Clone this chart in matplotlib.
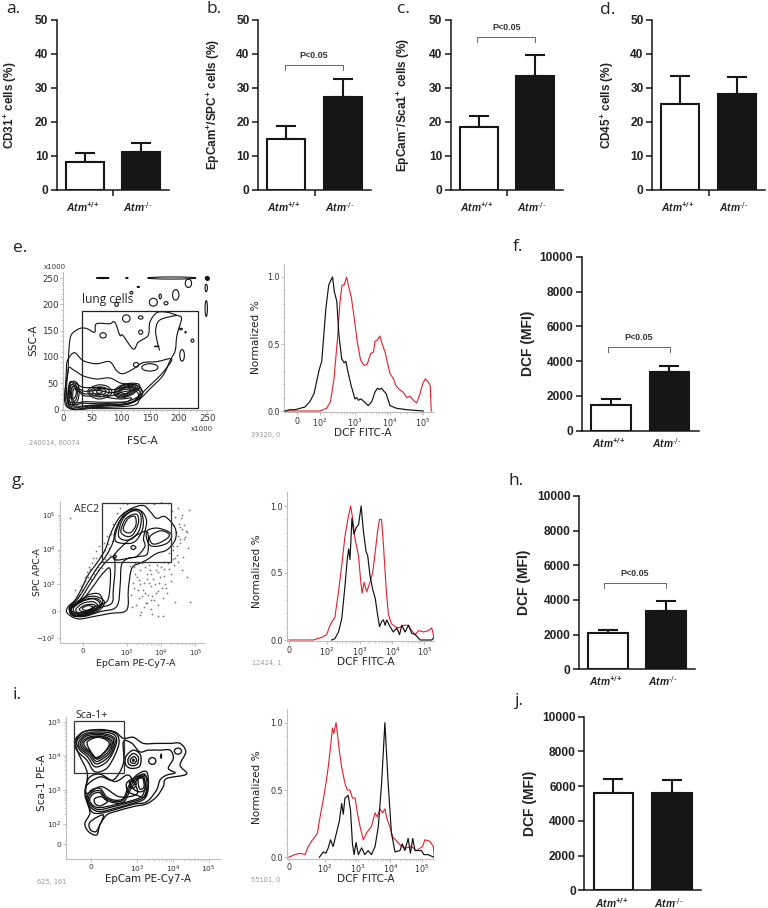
import numpy as np
import matplotlib
matplotlib.use("Agg")
import matplotlib.pyplot as plt
from matplotlib.path import Path
from matplotlib.patches import PathPatch, Ellipse, Rectangle

plt.rcParams['mathtext.default'] = 'regular'
W, H = 768, 908
BOLD = 'Liberation Sans'
FLOW = 'DejaVu Sans'

# ---------- bar data ----------
genotypes = [r"Atm$^{+/+}$", r"Atm$^{\text{-/-}}$"]
cd31_means = [8.2, 11.0];     cd31_tops = [10.8, 13.7]
spc_means = [15.0, 27.3];     spc_tops = [18.6, 32.5]
sca1_means = [18.5, 33.6];    sca1_tops = [21.7, 39.8]
cd45_means = [25.3, 28.2];    cd45_tops = [33.5, 33.3]
dcf_f_means = [1450, 3400];   dcf_f_tops = [1850, 3700]
dcf_h_means = [2080, 3365];   dcf_h_tops = [2250, 3920]
dcf_j_means = [5590, 5600];   dcf_j_tops = [6410, 6370]

# ---------- histogram data: log10 channel position, normalized count ----------
e_black_x = [1.0,1.14,1.29,1.43,1.57,1.71,1.83,1.92,1.98,2.05,2.11,2.17,2.25,2.30,2.36,2.41,2.48,2.54,2.62,2.69,2.74,2.81,2.89,3.0,3.05,3.10,3.16,3.22,3.30,3.38,3.48,3.57,3.64,3.70,3.76,3.82,3.89,4.0,4.19,4.48,4.95]
e_black_y = [0,.01,.01,.02,.03,.07,.13,.24,.31,.37,.57,.77,.94,.97,1.0,.89,.82,.57,.39,.36,.37,.28,.19,.09,.10,.08,.09,.08,.06,.04,.07,.14,.17,.16,.17,.15,.13,.04,.02,.01,0]
e_red_x = [1.0,1.6,2.0,2.19,2.30,2.40,2.50,2.57,2.63,2.69,2.76,2.81,2.90,2.97,3.07,3.16,3.26,3.35,3.45,3.53,3.57,3.64,3.71,3.79,3.86,3.92,4.0,4.10,4.17,4.27,4.38,4.48,4.57,4.67,4.76,4.86,4.93,5.01,5.09,5.15,5.18]
e_red_y = [0,0,0,.02,.07,.24,.54,.81,.94,.94,1.0,.94,.84,.71,.51,.38,.34,.35,.43,.44,.52,.53,.56,.49,.44,.37,.28,.24,.19,.16,.14,.10,.11,.08,.06,.13,.20,.24,.22,.19,0]
g_black_x = [2.15,2.25,2.36,2.46,2.56,2.63,2.67,2.71,2.77,2.83,2.90,2.97,3.05,3.12,3.20,3.25,3.32,3.40,3.48,3.55,3.61,3.68,3.73,3.78,3.83,3.93,4.03,4.14,4.22,4.29,4.39,4.49,4.59,4.70,4.85,5.05,5.20,5.28]
g_black_y = [0,.01,.06,.16,.41,.61,.68,.60,.91,.79,.84,.86,1.0,.81,.66,.63,.48,.38,.31,.19,.10,.14,.15,.11,.15,.10,.06,.09,.04,.11,.06,.11,.05,.04,0,0,0,.02]
g_red_x = [0.85,1.59,1.85,2.0,2.10,2.25,2.36,2.46,2.56,2.66,2.73,2.79,2.86,2.97,3.04,3.08,3.14,3.22,3.32,3.40,3.48,3.55,3.61,3.67,3.73,3.81,3.88,3.98,4.09,4.19,4.34,4.49,4.59,4.70,4.80,4.95,5.10,5.20,5.28]
g_red_y = [0,0,.02,.04,.11,.17,.36,.56,.78,.92,1.0,.91,.76,.63,.43,.35,.43,.36,.43,.50,.66,.81,.90,.90,.71,.39,.19,.12,.10,.09,.11,.11,.07,.04,.07,.06,.07,.09,.01]
i_red_x = [.89,1.08,1.24,1.39,1.49,1.59,1.69,1.77,1.85,1.95,2.03,2.10,2.17,2.23,2.27,2.34,2.38,2.44,2.51,2.61,2.68,2.76,2.84,2.92,2.99,3.07,3.17,3.27,3.42,3.53,3.60,3.68,3.76,3.83,3.90,3.98,4.07,4.19,4.34,4.49,4.64,4.80,4.98,5.05,5.20,5.31,5.34]
i_red_y = [0,.02,.03,.02,.08,.12,.15,.18,.30,.43,.55,.67,.82,.96,.92,1.0,.92,.79,.67,.55,.50,.50,.44,.44,.33,.23,.13,.18,.23,.33,.30,.36,.33,.36,.28,.23,.15,.12,.08,.07,.08,.05,.08,.13,.12,.08,0]
i_black_x = [1.83,1.95,2.03,2.10,2.17,2.25,2.36,2.44,2.51,2.56,2.61,2.71,2.78,2.84,2.89,2.95,3.02,3.12,3.22,3.32,3.42,3.53,3.63,3.73,3.83,3.93,4.03,4.14,4.29,4.36,4.44,4.54,4.61,4.68,4.75,4.95,5.02,5.15,5.33]
i_black_y = [0,.04,.03,.07,.13,.08,.19,.27,.40,.32,.44,.46,.35,.10,.02,.11,.02,.07,.02,.05,.02,.08,.23,.55,1.0,.55,.18,.04,.05,.10,.05,.14,.03,.14,.05,.05,.02,.02,0]

# ---------- panel e contour traces (FSC-A, SSC-A in thousands) ----------
e_contours = [
 [(5,6),(8,77),(9,109),(13,141),(28,154),(40,154),(54,147),(57,163),(80,163),(89,166),(98,141),(103,141),(121,115),(130,128),(147,141),(150,166),(162,184),(179,185),(197,179),(205,173),(197,141),(194,112),(185,93),(173,65),(150,39),(133,20),(121,8),(63,4)],
 [(5,77),(8,96),(19,108),(34,93),(57,87),(80,91),(92,74),(103,68),(121,77),(138,89),(162,91),(188,96),(173,71),(156,52),(138,33),(121,14),(63,6),(8,5)],
 [(8,75),(19,74),(34,64),(57,58),(80,60),(100,50),(120,48),(135,40),(128,22),(110,10),(60,7),(10,6)],
 [(10,50),(20,50),(35,42),(60,42),(85,38),(105,42),(130,40),(138,32),(128,18),(105,9),(60,8),(12,7)],
 [(12,45),(22,44),(35,35),(60,36),(85,32),(105,38),(128,38),(133,28),(122,16),(100,10),(60,9),(14,9)],
 [(15,42),(23,40),(36,30),(60,30),(82,26),(105,34),(125,35),(130,26),(118,18),(100,13),(60,11),(35,12),(16,11)],
 [(17,38),(24,36),(37,26),(60,26),(82,22),(100,20),(118,22),(110,15),(90,14),(60,14),(38,15),(18,14)],
 [(88,28),(100,22),(118,28),(131,40),(131,48),(118,50),(100,46),(90,38)],
 [(90,29),(100,24),(116,29),(128,40),(128,46),(118,48),(102,45),(92,37)],
 [(93,30),(102,26),(114,30),(125,40),(125,44),(116,46),(104,43),(95,36)],
 [(96,31),(104,28),(113,32),(122,40),(121,43),(114,44),(105,41),(98,36)],
 [(100,33),(106,30),(113,33),(116,38),(113,41),(106,41),(101,38)],
 [(48,25),(62,20),(78,25),(84,34),(76,44),(62,47),(48,42),(42,34)],
 [(50,28),(62,24),(75,28),(80,34),(73,41),(62,43),(50,39),(45,34)],
 [(54,30),(62,28),(71,30),(74,35),(69,39),(62,40),(54,38),(50,34)],
 [(58,32),(63,31),(67,33),(67,36),(63,38),(58,37)],
 [(8,12),(16,10),(24,16),(27,32),(25,48),(18,54),(11,48),(8,30)],
 [(10,16),(16,14),(22,20),(24,33),(22,45),(17,49),(12,44),(10,30)],
 [(12,22),(17,20),(21,26),(22,34),(20,42),(16,44),(13,38),(12,30)],
]
e_hook = [(197,179),(179,175),(165,168),(160,150),(163,128),(167,112)]
e_island_x = [68.6,109,134,134,126,150,206,195,156,168,178,217,248,248,118,92,130,224,204,212,162,68,110,188,249]
e_island_y = [141,173,175,147,85,80,103,218,204,215,202,240,231,192,222,200,233,131,153,147,120,250,250,250,250]
e_island_w = [11,13,8,7,9,28,8,11,14,4,7,11,4,4,5,6,4,5,5,2,8,22,4,84,5]
e_island_h = [10,14,6,8,9,14,22,20,15,9,6,16,14,30,5,8,2,6,3,3,1,2,2,4,5]
gate_e_x = [32.6, 233.7]; gate_e_y = [2.5, 188]

# ---------- panel g contour traces (log10 EpCam, log10 SPC positions) ----------
g_contours = [
 [(1.30,2.36),(1.50,2.55),(1.69,2.88),(1.88,3.27),(2.13,3.61),(2.37,3.99),(2.56,4.52),(2.81,4.95),(3.15,5.19),(3.49,5.27),(3.68,5.10),(3.87,4.90),(4.12,4.95),(4.41,4.62),(4.41,4.28),(4.17,3.99),(3.87,3.89),(3.58,3.70),(3.39,3.61),(3.15,3.46),(3.05,2.88),(3.0,2.26),(2.51,2.16),(2.03,2.07),(1.64,2.0),(1.40,2.07),(1.25,2.21)],
 [(1.35,2.36),(1.59,2.60),(1.83,2.98),(2.13,3.46),(2.42,3.85),(2.61,4.23),(2.66,4.52),(2.85,4.90),(3.19,5.14),(3.44,5.10),(3.58,4.81),(3.49,4.33),(3.53,4.09),(3.29,3.80),(3.05,3.75),(2.85,3.56),(2.81,2.98),(2.71,2.36),(2.22,2.21),(1.74,2.07),(1.40,2.12)],
 [(1.37,2.31),(1.64,2.55),(1.98,3.08),(2.32,3.56),(2.61,3.80),(2.66,3.46),(2.61,2.84),(2.56,2.45),(2.13,2.31),(1.74,2.14),(1.43,2.17)],
 [(1.40,2.31),(1.69,2.52),(1.98,2.88),(2.27,3.27),(2.51,3.46),(2.51,2.88),(2.42,2.50),(2.08,2.36),(1.74,2.19),(1.47,2.19)],
 [(1.38,2.30),(1.62,2.50),(1.90,2.70),(2.20,2.72),(2.30,2.45),(2.05,2.28),(1.74,2.13),(1.44,2.12)],
 [(1.33,2.33),(1.55,2.50),(1.8,2.62),(2.1,2.65),(2.35,2.5),(2.2,2.25),(1.75,2.09),(1.42,2.10)],
 [(1.36,2.33),(1.58,2.47),(1.85,2.58),(2.15,2.58),(2.27,2.42),(2.1,2.24),(1.75,2.11),(1.46,2.13)],
 [(1.45,2.31),(1.69,2.50),(2.03,2.58),(2.22,2.45),(2.17,2.29),(1.83,2.16),(1.54,2.16)],
 [(1.52,2.28),(1.72,2.45),(2.01,2.50),(2.15,2.40),(2.08,2.28),(1.82,2.19),(1.59,2.19)],
 [(1.62,2.28),(1.79,2.40),(2.03,2.42),(2.08,2.35),(1.93,2.25),(1.74,2.21)],
 [(1.71,2.31),(1.85,2.38),(2.01,2.36),(1.95,2.28),(1.79,2.25)],
 [(2.66,4.28),(2.76,4.71),(2.95,5.05),(3.24,5.17),(3.44,5.05),(3.47,4.62),(3.24,4.23),(2.90,4.18)],
 [(2.76,4.42),(2.85,4.81),(3.05,5.05),(3.29,5.12),(3.42,4.95),(3.37,4.57),(3.15,4.31),(2.90,4.28)],
 [(2.83,4.52),(2.95,4.86),(3.15,5.0),(3.31,5.0),(3.34,4.76),(3.19,4.44),(3.0,4.38)],
 [(2.90,4.62),(3.05,4.90),(3.24,4.95),(3.27,4.71),(3.13,4.50),(2.98,4.50)],
 [(3.58,4.52),(3.87,4.62),(4.21,4.52),(4.31,4.38),(4.17,4.18),(3.83,4.09),(3.63,4.18)],
 [(3.68,4.38),(3.97,4.54),(4.21,4.47),(4.21,4.35),(3.92,4.18),(3.73,4.18)],
 [(2.61,3.80),(2.81,4.04),(3.15,4.33),(3.58,4.52),(3.63,4.09),(3.58,3.85),(3.34,3.80),(3.05,3.75),(2.71,3.70)],
 [(3.12,4.06),(3.19,4.12),(3.27,4.06),(3.19,4.0)],
 [(2.62,3.80),(2.66,3.85),(2.70,3.80),(2.66,3.76)],
]
g_dots_x = [3.15,3.22,3.3,3.35,3.4,3.42,3.48,3.5,3.55,3.6,3.62,3.65,3.7,3.72,3.78,3.8,3.85,3.9,3.95,4.0,4.05,4.1,4.15,4.2,4.3,4.42,4.6,4.75,4.85,3.2,3.28,3.38,3.44,3.52,3.58,3.68,3.74,3.82,3.88,3.98,4.08,4.18,4.28,4.38,4.5,4.35,4.45,4.55,4.6,4.7,4.78,4.32,4.42,4.52,4.62,4.72,4.4,4.5,4.65,4.36,4.48,4.58,4.8,1.62,1.7,1.78,1.85,1.92,2.0,2.05,2.12,2.18,2.25,2.3,2.38,2.45,2.5,1.8,1.9,2.02,2.1,2.2,2.34,2.42,2.55,2.6,2.72,2.8,2.9,3.0,3.6,3.8,4.0,4.2,1.35,1.5,4.05,3.75,3.4,3.9,3.1,3.25,2.7,1.55,1.66,1.74,1.88,1.96,2.08,2.16,2.22,2.28,2.36,2.44,2.52,2.58,2.66,3.12,3.18,3.24,3.32,3.36,3.46,3.54,3.64,3.72,3.84,3.92,4.12,4.24,4.34,4.46,4.56,4.68,3.5,3.6,3.7,3.9,4.02,4.1,4.22,4.36,4.44,4.54,4.66,4.76]
g_dots_y = [2.35,2.9,3.2,2.6,3.4,2.2,2.85,3.05,2.45,3.3,2.7,3.55,2.95,2.3,3.15,2.55,3.4,2.8,3.05,3.5,2.6,3.25,2.9,3.6,3.1,2.5,3.4,3.2,2.5,3.5,2.4,3.0,3.6,2.75,3.15,3.4,2.65,3.0,3.55,3.2,3.45,2.75,3.3,3.55,3.65,4.0,3.85,4.2,4.6,4.35,4.05,5.1,4.95,4.75,5.0,4.55,3.75,5.2,3.8,4.7,4.4,4.9,5.15,2.7,2.85,3.1,3.35,3.45,3.6,3.3,3.75,3.5,3.85,3.65,4.0,4.15,4.05,3.2,3.5,3.75,3.95,4.1,4.2,4.4,4.45,4.75,5.05,5.2,5.35,5.32,5.34,5.3,5.36,5.33,4.9,2.85,2.1,2.15,2.12,2.08,3.52,3.62,3.72,2.62,2.95,3.02,3.22,3.14,3.42,3.4,3.62,3.48,3.72,3.9,3.85,4.25,4.6,2.7,3.05,3.3,2.85,3.12,2.65,3.5,3.05,3.3,2.75,3.35,3.0,3.45,3.72,4.1,4.3,4.7,2.35,2.45,2.55,2.4,2.9,3.65,3.9,4.1,4.5,4.65,4.3,4.5]
gate_g_x = [2.27, 4.29]; gate_g_y = [3.65, 5.33]

# ---------- panel i contour traces (log10 EpCam, log10 Sca-1 positions) ----------
i_contours = [
 [(1.25,4.48),(1.49,4.72),(1.95,4.79),(2.37,4.72),(2.61,4.53),(2.89,4.56),(3.17,4.38),(3.54,4.38),(3.92,4.38),(4.20,4.38),(4.36,4.13),(4.20,3.74),(4.38,3.47),(3.82,3.34),(3.73,3.10),(3.54,2.80),(3.26,2.59),(2.89,2.51),(2.37,2.36),(2.14,2.26),(1.95,1.97),(1.86,1.67),(1.63,1.77),(1.53,2.01),(1.67,2.31),(1.60,2.61),(1.53,2.90),(1.60,3.49),(1.39,3.99),(1.28,4.28)],
 [(2.61,4.43),(2.85,4.38),(3.07,4.13),(3.31,4.18),(3.64,4.18),(3.92,4.18),(4.01,3.94),(3.87,3.64),(4.06,3.51),(3.82,3.44),(3.64,3.30),(3.54,3.0),(3.26,2.65),(2.89,2.58),(2.37,2.42),(1.95,2.31),(1.72,2.36),(1.60,2.70),(1.56,3.10),(1.95,3.39),(2.33,3.30),(2.61,3.79)],
 [(1.25,4.38),(1.49,4.72),(1.95,4.77),(2.37,4.69),(2.49,4.43),(2.37,4.03),(2.14,3.64),(1.81,3.54),(1.58,3.89),(1.34,4.13)],
 [(1.30,4.43),(1.53,4.67),(1.95,4.72),(2.33,4.65),(2.42,4.43),(2.28,4.03),(2.09,3.79),(1.81,3.69),(1.60,3.99),(1.39,4.18)],
 [(1.35,4.40),(1.55,4.63),(1.95,4.68),(2.28,4.60),(2.38,4.43),(2.25,4.06),(2.05,3.86),(1.83,3.78),(1.64,4.03),(1.43,4.20)],
 [(1.40,4.40),(1.58,4.60),(1.95,4.64),(2.24,4.57),(2.34,4.43),(2.22,4.10),(2.02,3.92),(1.84,3.85),(1.67,4.07),(1.47,4.22)],
 [(1.45,4.40),(1.62,4.56),(1.95,4.60),(2.20,4.53),(2.30,4.40),(2.18,4.13),(2.00,3.97),(1.85,3.92),(1.70,4.10),(1.51,4.24)],
 [(1.50,4.40),(1.65,4.53),(1.95,4.58),(2.18,4.50),(2.26,4.38),(2.12,4.15),(1.95,4.0),(1.82,3.97),(1.70,4.12),(1.56,4.25)],
 [(1.60,4.43),(1.91,4.56),(2.19,4.43),(2.16,4.23),(1.86,3.94),(1.67,4.18)],
 [(1.58,2.70),(1.69,2.98),(1.95,3.05),(2.14,2.80),(2.37,2.70),(2.61,2.75),(2.75,3.10),(2.98,3.44),(3.26,3.54),(3.31,3.10),(3.21,2.75),(2.89,2.61),(2.37,2.46),(1.95,2.36),(1.72,2.46)],
 [(1.62,2.70),(1.72,2.92),(1.95,2.98),(2.12,2.76),(2.37,2.66),(2.61,2.71),(2.79,3.08),(3.0,3.38),(3.22,3.46),(3.27,3.10),(3.17,2.78),(2.89,2.66),(2.37,2.52),(1.95,2.42),(1.75,2.50)],
 [(1.66,2.70),(1.76,2.88),(1.95,2.92),(2.10,2.72),(2.37,2.62),(2.63,2.66),(2.82,3.03),(3.02,3.32),(3.18,3.40),(3.22,3.10),(3.13,2.82),(2.89,2.70),(2.37,2.56),(1.95,2.48),(1.78,2.53)],
 [(1.81,2.75),(2.0,2.80),(2.16,2.66),(1.95,2.53),(1.81,2.61)],
 [(2.70,3.20),(2.93,3.37),(3.19,3.44),(3.31,3.20),(3.21,2.80),(2.98,2.85),(2.75,2.95)],
 [(2.79,3.20),(2.98,3.32),(3.17,3.34),(3.24,3.08),(3.12,2.95),(2.93,3.0)],
 [(3.03,3.37),(3.15,3.37),(3.19,3.10),(3.09,3.02),(3.03,3.15)],
 [(2.79,3.25),(2.96,3.22),(2.93,3.08),(2.81,3.08)],
 [(2.68,3.99),(2.89,4.18),(3.09,4.03),(3.07,3.71),(2.84,3.64),(2.68,3.74)],
 [(2.75,3.94),(2.89,4.08),(3.03,3.97),(3.0,3.77),(2.86,3.72),(2.75,3.79)],
 [(2.81,3.91),(2.91,3.99),(2.98,3.89),(2.92,3.79),(2.82,3.82)],
 [(1.65,2.01),(1.81,2.16),(2.05,2.26),(1.95,1.97),(1.84,1.77),(1.69,1.82)],
 [(1.58,2.90),(1.63,3.34),(1.95,3.47),(2.37,3.25),(2.70,3.44),(2.84,3.34),(3.0,2.9),(2.5,2.8),(2.0,3.1)],
]
i_island_x = [3.42,4.14,3.67,2.89]
i_island_y = [3.86,4.15,4.0,3.88]
i_island_w = [.20,.20,.02,.05]
i_island_h = [.20,.18,.12,.06]
gate_i_x = [1.22, 2.63]; gate_i_y = [3.49, 5.05]

fig = plt.figure(figsize=(W/100, H/100), dpi=100)

def axpx(l, r, top, bot):
    return fig.add_axes([l/W, 1-bot/H, (r-l)/W, (bot-top)/H])

def txt(x, y, s, **k):
    k.setdefault('ha', 'center'); k.setdefault('va', 'center')
    return fig.text(x/W, 1-y/H, s, **k)

def bar_panel(l, r, top, bot, ymax, step, means, tops, ylabel, ylx, yly, ylsize, center_tick=True, bracket=None, tsize=8.6, xloff=18):
    ax = axpx(l, r, top, bot)
    ax.set_xlim(-.5, 1.5); ax.set_ylim(0, ymax)
    ax.patch.set_alpha(0)
    ax.bar([0, 1], means, width=.68, color=['white', '#161616'], edgecolor='#161616', linewidth=1.5, zorder=2)
    ax.errorbar([0, 1], means, yerr=[[0, 0], np.array(tops)-np.array(means)], fmt='none', ecolor='#161616',
                elinewidth=1.5, capsize=7, capthick=1.5, zorder=1)
    for s in ['top', 'right']:
        ax.spines[s].set_visible(False)
    for s in ['left', 'bottom']:
        ax.spines[s].set_linewidth(1.1); ax.spines[s].set_color('#161616')
    ax.set_yticks(np.arange(0, ymax+1, step))
    ax.tick_params(axis='y', length=4.5, width=1.1, pad=1.5, color='#161616')
    ax.set_yticklabels([str(v) for v in np.arange(0, ymax+1, step)], family=BOLD, weight='bold', fontsize=tsize, color='#222222')
    if center_tick:
        ax.set_xticks([.5]); ax.tick_params(axis='x', length=4, width=1.1, color='#161616')
    else:
        ax.set_xticks([])
    ax.set_xticklabels([] if not center_tick else [''])
    cx = [l+(r-l)*.25-2, l+(r-l)*.75-3]
    for c, g in zip(cx, genotypes):
        txt(c, bot+xloff, g, family=BOLD, weight='bold', style='italic', fontsize=7.4, color='#222222')
    txt(ylx, yly, ylabel, rotation=90, family=BOLD, weight='bold', fontsize=ylsize, color='#222222')
    if bracket:
        x0, x1, y, d = bracket
        ln = plt.Line2D([x0/W, x0/W, x1/W, x1/W], [1-(y+d)/H, 1-y/H, 1-y/H, 1-(y+d)/H], transform=fig.transFigure,
                        color='#666666', lw=.7)
        fig.add_artist(ln)
        txt((x0+x1)/2, y-9, "P<0.05", family=BOLD, weight='bold', fontsize=6.4, color='#333333')
    return ax

bar_panel(56.5, 169, 20, 189.5, 50, 10, cd31_means, cd31_tops, r"CD31$^{+}$ cells (%)", 10, 105, 8.5)
bar_panel(258, 371, 20, 189.5, 50, 10, spc_means, spc_tops, r"EpCam$^{+}$/SPC$^{+}$ cells (%)", 213, 105, 8.5, bracket=(285, 343, 65, 5))
bar_panel(450.5, 563, 20, 189.5, 50, 10, sca1_means, sca1_tops, r"EpCam$^{-}$/Sca1$^{+}$ cells (%)", 403, 105, 8.5, bracket=(477.3, 535.3, 37, 5))
bar_panel(652, 765, 20, 189.5, 50, 10, cd45_means, cd45_tops, r"CD45$^{+}$ cells (%)", 607, 105, 8.5)
bar_panel(581.7, 698.7, 256.7, 430.7, 10000, 2000, dcf_f_means, dcf_f_tops, "DCF (MFI)", 528, 343, 10, center_tick=False, bracket=(607.7, 670, 346.7, 5), xloff=12)
bar_panel(579, 695, 496, 669.3, 10000, 2000, dcf_h_means, dcf_h_tops, "DCF (MFI)", 524, 582, 10, center_tick=False, bracket=(604, 666, 583, 5), xloff=12)
bar_panel(584.3, 701, 716.7, 890.3, 10000, 2000, dcf_j_means, dcf_j_tops, "DCF (MFI)", 530, 803, 10, center_tick=False, xloff=12.5)

for x, y, s in [(13, 9, 'a.'), (214, 9, 'b.'), (403, 9, 'c.'), (608, 10, 'd.'), (20, 248, 'e.'), (518, 247, 'f.'),
                (19, 481, 'g.'), (516, 481, 'h.'), (17, 695, 'i.'), (519, 701, 'j.')]:
    txt(x, y, s, family='Open Sans', fontsize=12.5, color='#222222')

def smooth(pts, closed=True):
    pts = np.asarray(pts, float)
    n = len(pts)
    verts = [pts[0]]; codes = [Path.MOVETO]
    idx = lambda i: pts[i % n] if closed else pts[min(max(i, 0), n-1)]
    for i in range(n if closed else n-1):
        p0, p1, p2, p3 = idx(i-1), idx(i), idx(i+1), idx(i+2)
        verts += [p1+(p2-p0)/6, p2-(p3-p1)/6, p2]
        codes += [Path.CURVE4]*3
    return Path(verts, codes)

GRAY = '#bdbdbd'; TXT = '#333333'
def style_flow(ax, xt, xl, yt, yl, xminor, yminor, fs=6.2):
    ax.patch.set_alpha(0)
    for s in ['top', 'right']:
        ax.spines[s].set_visible(False)
    for s in ['left', 'bottom']:
        ax.spines[s].set_color(GRAY); ax.spines[s].set_linewidth(.8)
    ax.set_xticks(xt); ax.set_xticklabels(xl, family=FLOW, fontsize=fs, color=TXT)
    ax.set_yticks(yt); ax.set_yticklabels(yl, family=FLOW, fontsize=fs, color=TXT)
    ax.set_xticks(xminor, minor=True); ax.set_yticks(yminor, minor=True)
    ax.tick_params(which='major', length=2.2, width=.7, color=GRAY, pad=1)
    ax.tick_params(which='minor', length=1.2, width=.5, color=GRAY)

def decade_minor(stops):
    out = []
    for d in stops:
        out += [d + np.log10(k) for k in range(2, 10)]
    return out

def pow10(labels):
    return [('0' if v == 0 else r"$\mathregular{10^{%d}}$" % v) for v in labels]

# ---------- histograms ----------
def hist_panel(l, r, top, y1, y0, xl0, xl1, zero, p5, bx, by, rx, ry, nx, ny, dx, dy, note, nnx, nny):
    px = (y0-y1)
    bot = y0+1.3
    ax = axpx(l, r, top, bot)
    ax.set_xlim(xl0, xl1); ax.set_ylim(-1.3/px, (y0-top)/px)
    ax.plot(rx, ry, color='#e0202a', lw=.8, zorder=2)
    ax.plot(bx, by, color='#111111', lw=.85, zorder=3)
    style_flow(ax, [zero, 2, 3, 4, p5], pow10([0, 2, 3, 4, 5]), [0, .5, 1], ['0.0', '0.5', '1.0'],
               decade_minor([2, 3, 4]), [v/10 for v in range(0, 11)], fs=5.8)
    txt(nx, ny, "Normalized %", rotation=90, family=FLOW, fontsize=7.6, color='#222222')
    txt(dx, dy, "DCF FITC-A", family=FLOW, fontsize=7.6, color='#222222')
    txt(nnx, nny, note, family=FLOW, fontsize=4.8, color='#999999')

hist_panel(284.3, 433, 264, 277, 411, .98, 5.23, 1.35, 4.93, e_black_x, e_black_y, e_red_x, e_red_y, 256, 337, 363, 433, "39320, 0", 266, 435)
hist_panel(287.3, 434, 492, 506, 640, .80, 5.27, .85, 4.97, g_black_x, g_black_y, g_red_x, g_red_y, 257, 571, 366, 662, "12424, 1", 267, 663)
hist_panel(287.3, 434, 709.3, 722.7, 857.3, .85, 5.33, .89, 4.96, i_black_x, i_black_y, i_red_x, i_red_y, 257, 787, 366, 879, "55101, 0", 266, 880)

# ---------- panel e ----------
ax = axpx(63.3, 212, 271.7, 409.8)
ax.set_xlim(-.5, 258); ax.set_ylim(-.5, 262)
for c in e_contours:
    ax.add_patch(PathPatch(smooth(c), fc='none', ec='#111111', lw=.8))
ax.add_patch(PathPatch(smooth(e_hook, closed=False), fc='none', ec='#111111', lw=.8))
for x, y, w, h in zip(e_island_x, e_island_y, e_island_w, e_island_h):
    ax.add_patch(Ellipse((x, y), w, h, fc='none', ec='#111111', lw=.8))
ax.plot([249], [250], 'o', ms=2.5, color='#111111')
ax.add_patch(Rectangle((gate_e_x[0], gate_e_y[0]), gate_e_x[1]-gate_e_x[0], gate_e_y[1]-gate_e_y[0], fc='none', ec='#222222', lw=.9))
style_flow(ax, [0, 50, 100, 150, 200, 250], ['0', '50', '100', '150', '200', '250'], [0, 50, 100, 150, 200, 250],
           ['0', '50', '100', '150', '200', '250'], list(range(0, 255, 10)), list(range(0, 255, 10)))
txt(55, 267, "x1000", family=FLOW, fontsize=5, color=TXT)
txt(202, 429, "x1000", family=FLOW, fontsize=5, color=TXT)
txt(108, 300, "lung cells", family='Open Sans', fontsize=8.6, color='#222222')
txt(33, 340, "SSC-A", rotation=90, family=FLOW, fontsize=7.6, color='#222222')
txt(142, 441, "FSC-A", family=FLOW, fontsize=7.6, color='#222222')
txt(54, 443, "240014, 60074", family=FLOW, fontsize=4.8, color='#999999')

# ---------- panel g ----------
ax = axpx(60, 204, 501.7, 643.3)
ax.set_xlim(1.06, 5.25); ax.set_ylim(1.30, 5.38)
ax.scatter(g_dots_x, g_dots_y, s=1.6, color='#777777', lw=0, zorder=1)
for c in g_contours:
    ax.add_patch(PathPatch(smooth(c), fc='none', ec='#111111', lw=.85, zorder=2))
ax.add_patch(Rectangle((gate_g_x[0], gate_g_y[0]), gate_g_x[1]-gate_g_x[0], gate_g_y[1]-gate_g_y[0], fc='none', ec='#333333', lw=.9, zorder=3))
style_flow(ax, [1.72, 3, 4, 5], pow10([0, 3, 4, 5]), [1.44, 2.23, 3, 4, 5],
           [r"$\mathregular{-10^{2}}$", '0', pow10([3])[0], pow10([4])[0], pow10([5])[0]], decade_minor([3, 4]), decade_minor([3, 4]), fs=5)
txt(86.5, 509, "AEC2", family='Open Sans', fontsize=7.6, color='#222222')
txt(38, 572, "SPC APC-A", rotation=90, family=FLOW, fontsize=6.6, color='#222222')
txt(136, 663, "EpCam PE-Cy7-A", family=FLOW, fontsize=6.8, color='#222222')

# ---------- panel i ----------
ax = axpx(66, 220, 716.7, 859.3)
ax.set_xlim(1.0, 5.32); ax.set_ylim(.95, 5.17)
for c in i_contours:
    ax.add_patch(PathPatch(smooth(c), fc='none', ec='#111111', lw=.95))
for x, y, w, h in zip(i_island_x, i_island_y, i_island_w, i_island_h):
    ax.add_patch(Ellipse((x, y), w, h, fc='none', ec='#111111', lw=.95))
ax.add_patch(Rectangle((gate_i_x[0], gate_i_y[0]), gate_i_x[1]-gate_i_x[0], gate_i_y[1]-gate_i_y[0], fc='none', ec='#333333', lw=.9))
style_flow(ax, [1.69, 3, 4, 5], pow10([0, 3, 4, 5]), [1.39, 2, 3, 4, 5], pow10([0, 2, 3, 4, 5]),
           decade_minor([3, 4]), decade_minor([2, 3, 4]), fs=5.4)
txt(92, 715, "Sca-1+", family='Open Sans', fontsize=7.6, color='#222222')
txt(42, 783, "Sca-1 PE-A", rotation=90, family=FLOW, fontsize=7.6, color='#222222')
txt(148, 879, "EpCam PE-Cy7-A", family=FLOW, fontsize=7.4, color='#222222')
txt(52, 882, "625, 161", family=FLOW, fontsize=4.8, color='#999999')

fig.savefig("out.png", dpi=100)
